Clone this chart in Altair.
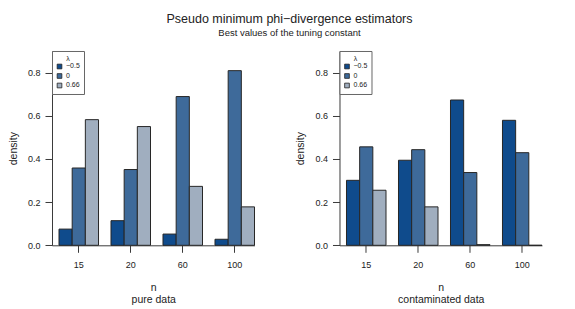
import altair as alt
import pandas as pd

n_labels = ["15", "20", "60", "100"]
lambdas = ["\u22120.5", "0", "0.66"]
colors = ["#0F4B8C", "#3E6A9A", "#A0AEBF"]

pure_m05 = [0.075, 0.114, 0.052, 0.028]
pure_0 = [0.358, 0.351, 0.689, 0.809]
pure_066 = [0.582, 0.550, 0.273, 0.178]

cont_m05 = [0.301, 0.394, 0.673, 0.579]
cont_0 = [0.456, 0.443, 0.337, 0.429]
cont_066 = [0.255, 0.178, 0.003, 0.0]

y_ticks = [0.0, 0.2, 0.4, 0.6, 0.8]


def make_df(series):
    rows = []
    for lam, vals in zip(lambdas, series):
        for n, v in zip(n_labels, vals):
            rows.append({"n": n, "lambda": lam, "density": v})
    return pd.DataFrame(rows)


FONT = "Liberation Sans"
TXT = "#222222"
AX = "#3a3a3a"


def panel(series, subtitle):
    df = make_df(series)
    return (
        alt.Chart(df)
        .mark_bar(stroke="#262626", strokeWidth=1)
        .encode(
            x=alt.X(
                "n:N",
                sort=n_labels,
                scale=alt.Scale(paddingInner=0.24, paddingOuter=0.0673, align=1),
                axis=alt.Axis(
                    title=["n", subtitle],
                    labelAngle=0,
                    labelFont=FONT,
                    labelFontSize=9,
                    labelColor=TXT,
                    labelPadding=8,
                    tickSize=7,
                    tickColor=AX,
                    domainColor=AX,
                    titleFont=FONT,
                    titleFontSize=10.5,
                    titleFontWeight="normal",
                    titleColor=TXT,
                    titleLineHeight=12,
                    titlePadding=13,
                ),
            ),
            xOffset=alt.XOffset(
                "lambda:N",
                sort=lambdas,
                scale=alt.Scale(paddingInner=0, paddingOuter=0),
            ),
            y=alt.Y(
                "density:Q",
                scale=alt.Scale(domain=[0, 0.9], nice=False, zero=True),
                axis=alt.Axis(
                    values=y_ticks,
                    format=".1f",
                    title="density",
                    grid=False,
                    labelFont=FONT,
                    labelFontSize=9,
                    labelColor=TXT,
                    labelPadding=5,
                    tickSize=7,
                    tickColor=AX,
                    domainColor=AX,
                    titleFont=FONT,
                    titleFontSize=10.5,
                    titleFontWeight="normal",
                    titleColor=TXT,
                    titlePadding=9,
                ),
            ),
            color=alt.Color(
                "lambda:N",
                sort=lambdas,
                scale=alt.Scale(domain=lambdas, range=colors),
                legend=alt.Legend(
                    title="\u03bb",
                    orient="none",
                    legendX=0,
                    legendY=0,
                    fillColor="white",
                    strokeColor="#666666",
                    padding=4,
                    titleFont=FONT,
                    titleFontSize=7,
                    titleFontWeight="normal",
                    titleColor=TXT,
                    titleAnchor="middle",
                    titleAlign="center",
                    titlePadding=1,
                    labelFont=FONT,
                    labelFontSize=7,
                    labelColor=TXT,
                    labelOffset=3,
                    symbolType="square",
                    symbolSize=22,
                    symbolStrokeColor="#222222",
                    symbolStrokeWidth=0.8,
                    symbolOpacity=1,
                    rowPadding=0.5,
                ),
            ),
        )
        .properties(width=202.5, height=194.3)
    )


left = panel([pure_m05, pure_0, pure_066], "pure data")
right = panel([cont_m05, cont_0, cont_066], "contaminated data")

chart = (
    alt.hconcat(left, right, spacing=39.5)
    .resolve_scale(color="independent")
    .resolve_legend(color="independent")
    .properties(
        title=alt.TitleParams(
            text="Pseudo minimum phi\u2212divergence estimators",
            subtitle="Best values of the tuning constant",
            anchor="middle",
            font=FONT,
            fontSize=12.5,
            fontWeight="normal",
            color=TXT,
            subtitleFont=FONT,
            subtitleFontSize=9.5,
            subtitleColor=TXT,
            subtitlePadding=2,
            offset=13,
            dx=14,
        ),
        padding={"left": 0, "top": 5, "right": 0, "bottom": 0},
        background="white",
    )
    .configure_view(stroke=None)
)

chart.save("out.html", embed_options={"renderer": "svg", "actions": False})
